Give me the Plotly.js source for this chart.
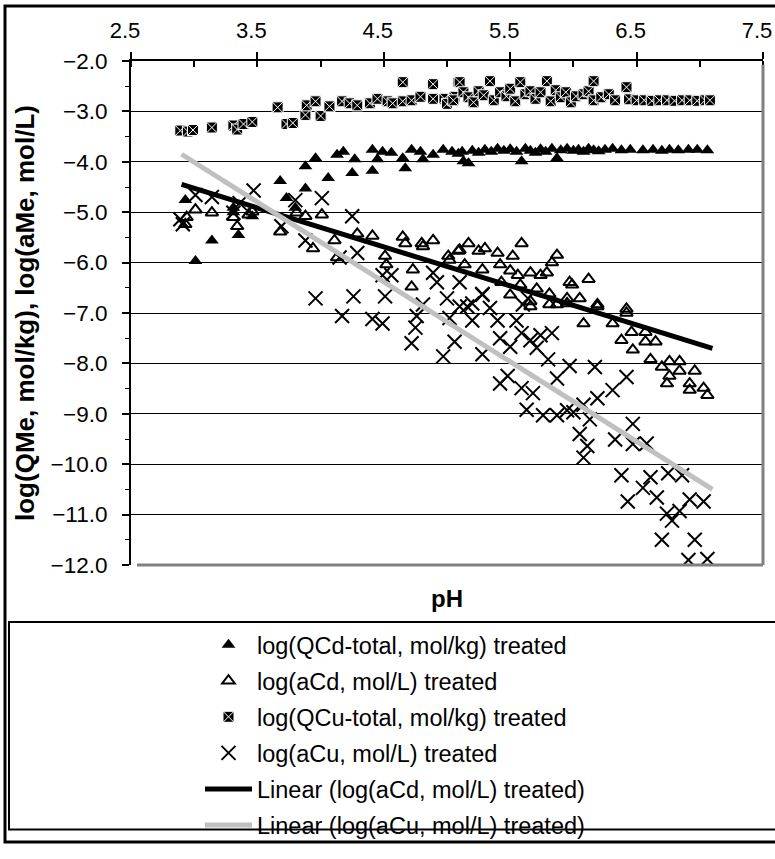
<!DOCTYPE html>
<html>
<head>
<meta charset="utf-8">
<script src="https://cdn.plot.ly/plotly-3.0.1.min.js"></script>
<style>
html,body{margin:0;padding:0;background:#fff;}
#chart{width:775px;height:859px;}
</style>
</head>
<body>
<div id="chart"></div>
<script>
// ---- data ----
const qcdX = [2.93,3.01,3.14,3.31,3.31,3.35,3.46,3.68,3.73,3.80,3.88,3.88,3.96,4.06,4.13,4.18,4.25,4.27,4.41,4.41,4.45,4.49,4.56,4.65,4.67,4.72,4.79,4.81,4.89,4.97,5.04,5.09,
  5.13,5.17,5.12,5.20,5.25,5.30,5.35,5.40,5.45,5.50,5.55,5.59,5.62,5.66,5.70,5.74,5.78,5.83,5.87,5.90,5.95,6.00,6.04,6.08,6.12,6.16,6.20,6.25,6.31,6.38,6.45,6.55,6.63,6.70,6.76,6.83,6.91,6.98,7.06];
const qcdY = [-4.76,-5.97,-5.56,-4.91,-5.00,-5.45,-5.08,-4.38,-4.72,-4.91,-4.53,-4.09,-3.93,-4.32,-3.86,-3.80,-4.22,-3.95,-4.18,-3.76,-3.95,-3.80,-3.82,-3.93,-4.13,-3.76,-3.80,-3.95,-3.86,-3.76,-3.80,-3.84,
  -3.99,-4.03,-3.80,-3.78,-3.82,-3.76,-3.80,-3.74,-3.78,-3.75,-3.80,-3.99,-3.74,-3.78,-3.82,-3.75,-3.80,-3.74,-3.93,-3.77,-3.74,-3.78,-3.76,-3.80,-3.74,-3.77,-3.79,-3.76,-3.74,-3.77,-3.76,-3.77,-3.76,-3.78,-3.76,-3.77,-3.76,-3.76,-3.77];

const acdX = [2.93,2.94,3.01,3.14,3.31,3.34,3.43,3.46,3.68,3.81,3.88,3.94,4.01,4.11,4.13,4.29,4.41,4.51,4.52,4.65,4.67,4.72,4.73,4.80,4.81,4.89,5.01,5.09,
  5.17,5.10,5.25,5.30,5.40,5.52,5.59,5.87,5.83,5.02,5.14,5.28,5.42,5.50,5.56,5.66,5.74,5.79,6.12,5.43,5.58,5.71,5.81,5.97,5.99,5.95,6.05,6.19,6.42,5.50,5.66,5.87,
  5.66,5.81,5.95,6.08,6.19,6.31,6.42,6.38,6.46,6.57,6.47,6.57,6.65,6.61,6.70,6.76,6.84,6.76,6.84,6.96,6.74,6.92,6.92,7.03,7.06];
const acdY = [-5.24,-5.10,-4.95,-5.01,-5.10,-5.28,-5.05,-4.99,-5.39,-5.01,-5.08,-5.72,-5.05,-5.56,-5.90,-5.43,-5.47,-5.87,-6.04,-5.49,-5.62,-6.48,-6.14,-5.62,-5.68,-5.56,-5.87,-5.77,
  -5.62,-5.75,-5.77,-5.72,-5.81,-5.87,-5.62,-5.85,-6.00,-5.95,-6.04,-6.14,-6.04,-6.16,-6.25,-6.20,-6.25,-6.20,-6.33,-6.39,-6.44,-6.52,-6.62,-6.39,-6.44,-6.71,-6.71,-6.83,-6.92,-6.64,-6.77,-6.83,
  -6.87,-6.83,-6.81,-7.21,-6.87,-7.21,-7.00,-7.54,-7.38,-7.38,-7.73,-7.57,-7.57,-7.92,-8.07,-7.96,-7.96,-8.25,-8.15,-8.15,-8.40,-8.40,-8.53,-8.49,-8.63];

const qcuX = [2.89,2.95,2.99,3.14,3.31,3.34,3.39,3.46,3.66,3.73,3.78,3.88,3.89,3.96,4.00,4.07,4.17,4.23,4.29,4.39,4.45,4.53,4.57,4.65,4.65,4.72,4.79,4.89,4.89,4.98,5.06,5.09,
  5.00,5.05,5.10,5.13,5.17,5.21,5.25,5.29,5.34,5.37,5.42,5.47,5.50,5.54,5.58,5.62,5.66,5.70,5.74,5.79,5.82,5.86,5.90,5.94,5.98,6.02,6.08,6.12,6.16,6.16,6.22,6.28,6.33,6.42,6.44,6.50,6.56,6.62,6.68,6.74,6.80,6.86,6.92,6.98,7.04,7.08];
const qcuY = [-3.38,-3.40,-3.37,-3.32,-3.28,-3.36,-3.25,-3.21,-2.92,-3.25,-3.23,-3.07,-2.88,-2.80,-3.09,-2.90,-2.80,-2.84,-2.88,-2.84,-2.75,-2.80,-2.84,-2.80,-2.42,-2.78,-2.71,-2.46,-2.75,-2.75,-2.71,-2.42,
  -2.85,-2.78,-2.42,-2.62,-2.72,-2.82,-2.60,-2.68,-2.40,-2.78,-2.62,-2.70,-2.55,-2.80,-2.42,-2.66,-2.60,-2.75,-2.62,-2.40,-2.80,-2.58,-2.72,-2.62,-2.82,-2.70,-2.66,-2.60,-2.40,-2.78,-2.72,-2.66,-2.78,-2.52,-2.76,-2.78,-2.78,-2.79,-2.78,-2.78,-2.79,-2.78,-2.78,-2.79,-2.78,-2.78];

const acuX = [2.89,2.91,3.01,3.14,3.31,3.36,3.47,3.69,3.80,3.88,4.01,4.15,4.25,4.29,4.49,4.56,4.89,4.92,3.96,4.26,4.51,4.81,5.00,4.17,4.41,4.49,4.76,4.75,4.72,4.97,5.06,
  5.10,5.20,5.28,5.02,5.20,5.28,5.42,5.55,5.40,5.34,5.60,5.50,5.59,5.66,5.74,5.83,5.71,5.80,5.42,5.48,5.59,5.68,5.63,5.76,5.87,5.95,6.00,5.87,5.97,6.08,6.19,6.31,6.42,6.17,
  6.13,6.05,6.11,6.08,6.33,6.47,6.47,6.58,6.38,6.61,6.75,6.86,6.43,6.55,6.66,6.74,6.78,6.84,6.92,7.03,6.70,6.96,6.91,7.06,5.10,5.16,5.28,5.64];
const acuY = [-5.14,-5.24,-4.66,-4.70,-5.01,-4.82,-4.57,-5.28,-4.76,-5.56,-4.72,-5.90,-5.08,-5.81,-6.25,-6.25,-6.20,-6.39,-6.71,-6.67,-6.67,-6.83,-6.71,-7.06,-7.12,-7.21,-7.06,-7.29,-7.60,-7.86,-7.57,
  -6.87,-6.81,-6.64,-7.10,-7.15,-7.82,-7.50,-7.15,-7.15,-6.90,-6.83,-7.67,-7.40,-7.54,-7.44,-7.40,-7.69,-7.92,-8.40,-8.25,-8.49,-8.59,-8.92,-9.03,-9.03,-8.93,-8.97,-8.30,-8.05,-8.82,-8.69,-8.53,-8.27,-8.07,
  -9.11,-9.40,-9.64,-9.87,-9.51,-9.20,-9.60,-9.59,-10.22,-10.26,-10.18,-10.22,-10.74,-10.47,-10.66,-10.98,-11.12,-10.93,-10.70,-10.74,-11.50,-11.50,-11.90,-11.88,-6.39,-6.87,-6.62,-6.71];

// linear trend lines (end points)
const trendX = [2.9, 7.1];
const trendCdY = [-4.45, -7.70];
const trendCuY = [-3.85, -10.50];

const seriesNames = [
  "log(QCd-total, mol/kg) treated",
  "log(aCd, mol/L) treated",
  "log(QCu-total, mol/kg) treated",
  "log(aCu, mol/L) treated",
  "Linear (log(aCd, mol/L) treated)",
  "Linear (log(aCu, mol/L) treated)"
];
const xTitle = "pH";
const yTitle = "log(QMe, mol/kg), log(aMe, mol/L)";

// ---- layout geometry (pixels) ----
const W = 775, H = 859;
const L = 131, R = 763, T = 61, B = 583;
const px = p => (p - L) / (R - L);
const py = p => (B - p) / (B - T);
const FONT = "Arial, 'Liberation Sans', sans-serif";

const traces = [
  {x: qcdX, y: qcdY, mode: "markers", type: "scatter", name: seriesNames[0], legendgroup: "g1",
   marker: {symbol: "triangle-up", size: 12, color: "#000", line: {width: 0}}},
  {x: acdX, y: acdY, mode: "markers", type: "scatter", name: seriesNames[1], legendgroup: "g2",
   marker: {symbol: "triangle-up-open", size: 11, color: "#000", line: {width: 2, color: "#000"}}},
  {x: qcuX, y: qcuY, mode: "markers", type: "scatter", name: seriesNames[2], legendgroup: "g3",
   marker: {symbol: "square-x", size: 11, color: "#000", line: {width: 1, color: "#fff"}}},
  {x: acuX, y: acuY, mode: "markers", type: "scatter", name: seriesNames[3], legendgroup: "g4",
   marker: {symbol: "x-thin-open", size: 14, color: "#000", line: {width: 2, color: "#000"}}},
  {x: trendX, y: trendCdY, mode: "lines", type: "scatter", name: seriesNames[4], legendgroup: "g5",
   line: {color: "#000", width: 5}},
  {x: trendX, y: trendCuY, mode: "lines", type: "scatter", name: seriesNames[5], legendgroup: "g6",
   line: {color: "#c0c0c0", width: 5}}
];

const layout = {
  width: W, height: H,
  margin: {l: L, r: W - R, t: T, b: H - B, pad: 0},
  paper_bgcolor: "#fff", plot_bgcolor: "#fff",
  font: {family: FONT, color: "#000", size: 22},
  showlegend: true,
  xaxis: {
    side: "top", range: [2.5, 7.5], dtick: 1, tick0: 2.5, tickformat: ".1f",
    showgrid: false, zeroline: false,
    showline: true, linecolor: "#000", linewidth: 2,
    ticks: "outside", ticklen: 7, tickwidth: 2, tickcolor: "#000",
    tickfont: {size: 22, family: FONT},
    ticklabelstandoff: 5, ticklabelshift: -6, ticklabeloverflow: "allow",
    minor: {dtick: 0.5, tick0: 2.5, ticks: "inside", ticklen: 6, tickwidth: 2, tickcolor: "#000", showgrid: false},
    fixedrange: true
  },
  yaxis: {
    range: [-12, -2], dtick: 1, tickformat: ".1f",
    showgrid: true, gridcolor: "#000", gridwidth: 1, zeroline: false,
    showline: true, linecolor: "#000", linewidth: 2,
    ticks: "outside", ticklen: 7, tickwidth: 2, tickcolor: "#000",
    tickfont: {size: 22.5, family: FONT},
    ticklabelstandoff: 10, ticklabeloverflow: "allow",
    minor: {dtick: 0.5, ticks: "outside", ticklen: 4, tickwidth: 1, tickcolor: "#000", showgrid: false},
    title: {text: yTitle, font: {size: 26, family: FONT, weight: "bold"}, standoff: 8},
    fixedrange: true
  },
  legend: {
    x: px(200), xanchor: "left", y: py(643), yanchor: "top",
    orientation: "v", traceorder: "grouped", tracegroupgap: 2.5,
    itemwidth: 47, font: {size: 23.5, family: FONT},
    bgcolor: "rgba(0,0,0,0)", borderwidth: 0
  },
  annotations: [
    {text: "<b>" + xTitle + "</b>", xref: "paper", yref: "paper", x: 0.5, y: py(618),
     xanchor: "center", yanchor: "middle", showarrow: false, font: {size: 24, family: FONT}}
  ],
  shapes: [
    // right & bottom plot-area border (gray)
    {type: "line", xref: "paper", yref: "paper", x0: px(R), x1: px(R), y0: py(T + 4), y1: py(B), line: {color: "#808080", width: 3}},
    {type: "line", xref: "paper", yref: "paper", x0: px(L + 6), x1: px(R), y0: py(B), y1: py(B), line: {color: "#808080", width: 3}},
    // outer chart border
    {type: "rect", xref: "paper", yref: "paper", x0: px(5), x1: px(790), y0: py(4), y1: py(870), line: {color: "#000", width: 3}},
    // legend box
    {type: "rect", xref: "paper", yref: "paper", x0: px(9), x1: px(790), y0: py(642), y1: py(857), line: {color: "#000", width: 2}}
  ]
};

Plotly.newPlot("chart", traces, layout, {displayModeBar: false, staticPlot: true});
</script>
</body>
</html>
